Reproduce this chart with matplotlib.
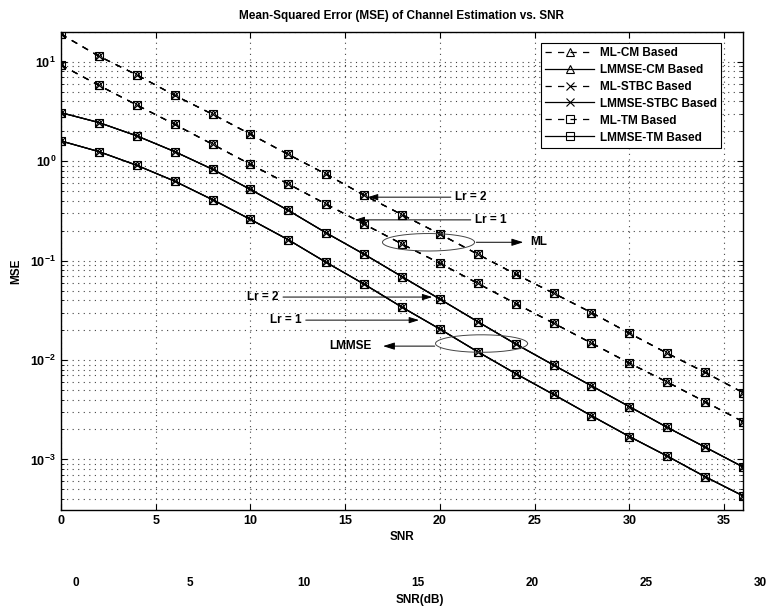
import numpy as np
import matplotlib
matplotlib.use("Agg")
import matplotlib.pyplot as plt
from matplotlib.ticker import LogLocator, NullFormatter

plt.rcParams['font.family'] = ['Liberation Sans', 'DejaVu Sans']
plt.rcParams['font.weight'] = 'bold'
plt.rcParams['mathtext.default'] = 'regular'

# SNR points (dB)
snr = [0, 2, 4, 6, 8, 10, 12, 14, 16, 18, 20, 22, 24, 26, 28, 30, 32, 34, 36]

# MSE; CM, STBC and TM curves coincide
ml_lr2 = [19.0, 11.4, 7.4, 4.6, 2.97, 1.87, 1.17, 0.74, 0.455, 0.29, 0.185,
          0.116, 0.073, 0.047, 0.030, 0.0186, 0.0117, 0.0075, 0.0047]
ml_lr1 = [9.3, 5.8, 3.68, 2.35, 1.48, 0.93, 0.59, 0.37, 0.233, 0.147, 0.094,
          0.059, 0.037, 0.0235, 0.0148, 0.0093, 0.006, 0.0038, 0.0024]
lmmse_lr2 = [3.08, 2.45, 1.8, 1.25, 0.83, 0.52, 0.32, 0.19, 0.116, 0.069, 0.041,
             0.0243, 0.0145, 0.0089, 0.0055, 0.0034, 0.0021, 0.00133, 0.00084]
lmmse_lr1 = [1.6, 1.25, 0.91, 0.63, 0.41, 0.26, 0.162, 0.096, 0.058, 0.034, 0.0205,
             0.0121, 0.0073, 0.0045, 0.00275, 0.0017, 0.00108, 0.00067, 0.00043]

schemes = ['CM', 'STBC', 'TM']
markers = ['^', 'x', 's']

x_ticks = [0, 5, 10, 15, 20, 25, 30, 35]
lower_ticks = ['0', '5', '10', '15', '20', '25', '30']

fig = plt.figure(figsize=(7.67, 6.09), dpi=100)
ax = fig.add_axes([0.0795, 0.1626, 0.8892, 0.785])

for scheme, mk in zip(schemes, markers):
    for est, curves, ls in [('ML', (ml_lr2, ml_lr1), (0, (5, 5))),
                            ('LMMSE', (lmmse_lr2, lmmse_lr1), '-')]:
        for i, y in enumerate(curves):
            ax.plot(snr, y, color='black', linestyle=ls, lw=0.9,
                    marker=mk, ms=5.5, mew=0.8, mfc='none', mec='black',
                    label=f'{est}-{scheme} Based' if i == 0 else None)

ax.set_yscale('log')
ax.set_xlim(0, 36)
ax.set_ylim(3.1e-4, 20)
ax.set_xticks(x_ticks)
ax.yaxis.set_major_locator(LogLocator(base=10))
ax.yaxis.set_minor_locator(LogLocator(base=10, subs=np.arange(2, 10)))
ax.yaxis.set_minor_formatter(NullFormatter())
ax.tick_params(which='both', direction='in', top=True, right=True, labelsize=9)
ax.tick_params(which='major', length=4)
ax.tick_params(which='minor', length=2)
grid_ls = (0, (1, 4))
ax.grid(True, which='major', linestyle=grid_ls, color='#444444', lw=0.8)
ax.grid(True, which='minor', axis='y', linestyle=grid_ls, color='#444444', lw=0.8)
for s in ax.spines.values():
    s.set_linewidth(1.0)

ax.set_title('Mean-Squared Error (MSE) of Channel Estimation vs. SNR',
             fontsize=8.5, fontweight='bold', pad=9)
ax.set_xlabel('SNR', fontsize=8.5, fontweight='bold', labelpad=3)
ax.set_ylabel('MSE', fontsize=8.5, fontweight='bold', labelpad=6)

handles, labels = ax.get_legend_handles_labels()
leg = ax.legend(handles, labels, loc='upper right', bbox_to_anchor=(0.977, 0.99),
                fontsize=8.5, handlelength=4.2, labelspacing=0.42,
                borderpad=0.35, handletextpad=0.5, fancybox=False,
                edgecolor='black', framealpha=1)
leg.get_frame().set_linewidth(0.8)

# annotations
arrow = dict(arrowstyle='-|>,head_length=0.7,head_width=0.22', color='black',
             lw=0.7, shrinkA=1, shrinkB=0)
txt = dict(fontsize=8.5, fontweight='bold', va='center')
ax.annotate('Lr = 2', xy=(16.2, 0.435), xytext=(20.8, 0.435), arrowprops=arrow, ha='left', **txt)
ax.annotate('Lr = 1', xy=(15.5, 0.257), xytext=(21.85, 0.257), arrowprops=arrow, ha='left', **txt)
ax.annotate('Lr = 2', xy=(19.6, 0.043), xytext=(11.5, 0.043), arrowprops=arrow, ha='right', **txt)
ax.annotate('Lr = 1', xy=(18.9, 0.0252), xytext=(12.7, 0.0252), arrowprops=arrow, ha='right', **txt)

t = np.linspace(0, 2 * np.pi, 200)
for cx, cy in [(19.4, 0.153), (22.2, 0.01465)]:
    ax.plot(cx + 2.43 * np.cos(t), 10 ** (np.log10(cy) + 0.088 * np.sin(t)),
            color='#444444', lw=0.7)
ax.annotate('', xy=(24.4, 0.153), xytext=(21.85, 0.153), arrowprops=arrow)
ax.text(24.75, 0.153, 'ML', ha='left', **txt)
ax.annotate('', xy=(17.0, 0.0138), xytext=(19.8, 0.0138), arrowprops=arrow)
ax.text(16.4, 0.0138, 'LMMSE', ha='right', **txt)

# second axis labels from the scanned page
for i, lab in enumerate(lower_ticks):
    fig.text((76 + 114 * i) / 767, 1 - 583 / 609, lab, ha='center', va='center',
             fontsize=8.5, fontweight='bold')
fig.text(420 / 767, 1 - 600 / 609, 'SNR(dB)', ha='center', va='center',
         fontsize=8.5, fontweight='bold')

fig.savefig('out.png', dpi=100)
